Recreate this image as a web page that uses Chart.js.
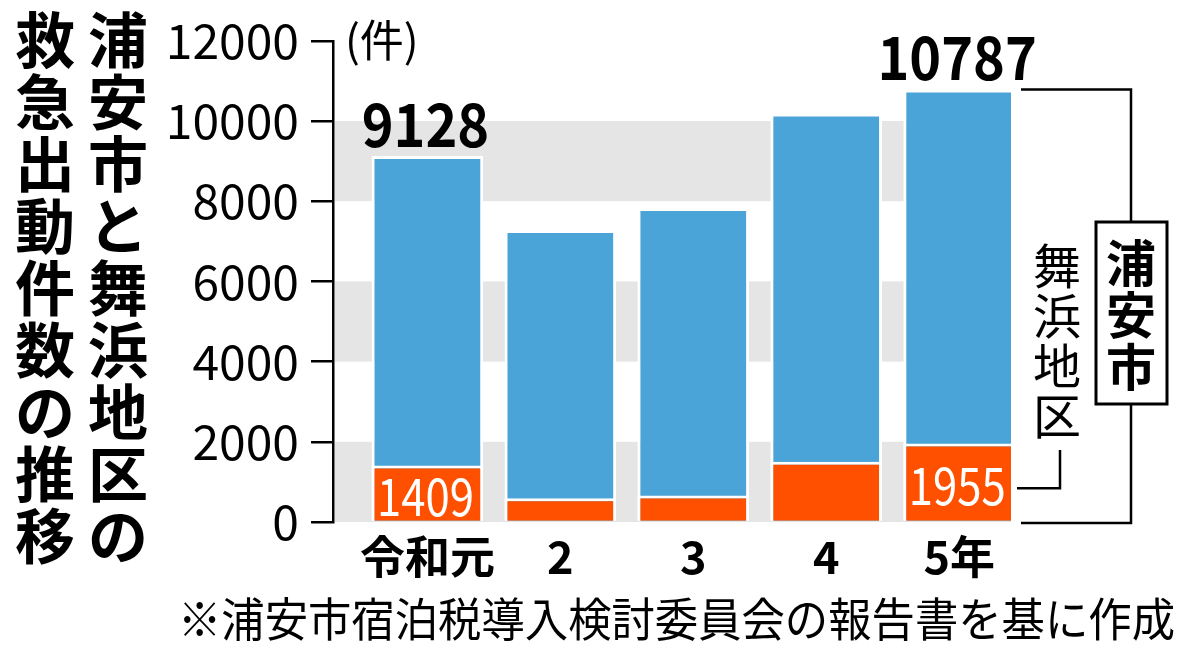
<!DOCTYPE html>
<html>
<head>
<meta charset="utf-8">
<script src="https://cdn.jsdelivr.net/npm/chart.js@4"></script>
<style>
  body { margin: 0; background: #fff; }
</style>
</head>
<body>
<canvas id="chart" width="1200" height="646"></canvas>
<script>
// data
const years = ['令和元', '2', '3', '4', '5年'];
const urayasuTotal = [9128, 7280, 7830, 10190, 10787];
const maihama = [1409, 590, 660, 1500, 1955];
const labelled = [0, 4];
const bands = [[0, 2000], [4000, 6000], [8000, 10000]];

const titleRight = '浦安市と舞浜地区の';
const titleLeft = '救急出動件数の推移';
const unitText = '(件)';
const cityText = '浦安市';
const areaText = '舞浜地区';
const noteText = '※浦安市宿泊税導入検討委員会の報告書を基に作成';

const JP = "'Noto Sans CJK JP', sans-serif";

function vertical(ctx, text, x, y0, pitch) {
  [...text].forEach((ch, i) => ctx.fillText(ch, x, y0 + i * pitch));
}

// text squeezed horizontally, like the condensed type of the original
function squeezed(ctx, text, x, y, sx) {
  ctx.save();
  ctx.translate(x, y);
  ctx.scale(sx, 1);
  ctx.fillText(text, 0, 0);
  ctx.restore();
}

const decor = {
  id: 'decor',
  beforeDatasetsDraw(chart) {
    const { ctx, chartArea: a, scales: { y } } = chart;
    ctx.save();
    ctx.fillStyle = '#e5e5e5';
    bands.forEach(([lo, hi]) => {
      const t = y.getPixelForValue(hi);
      const b = y.getPixelForValue(lo);
      ctx.fillRect(a.left + 2, t, a.right - a.left - 2, b - t);
    });
    ctx.restore();
  },
  afterDraw(chart) {
    const { ctx, scales: { y } } = chart;
    const blue = chart.getDatasetMeta(1).data;
    const orange = chart.getDatasetMeta(0).data;
    ctx.save();
    ctx.fillStyle = '#000';
    ctx.textAlign = 'center';
    ctx.textBaseline = 'middle';

    // vertical title
    ctx.font = 'bold 60px ' + JP;
    vertical(ctx, titleRight, 118, 40, 62);
    vertical(ctx, titleLeft, 45, 40, 62);

    // unit
    ctx.font = '44px ' + JP;
    ctx.textAlign = 'left';
    ctx.fillText(unitText, 345, 40);

    // totals above bars
    ctx.textAlign = 'center';
    ctx.textBaseline = 'alphabetic';
    ctx.font = 'bold 60px ' + JP;
    labelled.forEach(i => {
      const b = blue[i];
      squeezed(ctx, String(urayasuTotal[i]), b.x - 2, b.y - 9, 0.9);
    });

    // maihama values inside orange bars
    ctx.fillStyle = '#fff';
    ctx.textBaseline = 'middle';
    ctx.font = '52px ' + JP;
    labelled.forEach(i => {
      const b = orange[i];
      squeezed(ctx, String(maihama[i]), b.x - 2, (b.y + b.base) / 2 + 3, 0.84);
    });

    // brackets on the right
    const last = blue.length - 1;
    const right = blue[last].x + blue[last].width / 2 + 6;
    const top = y.getPixelForValue(urayasuTotal[last]);
    const zero = y.getPixelForValue(0) + 1;
    ctx.strokeStyle = '#000';
    ctx.lineWidth = 2.5;
    ctx.beginPath();
    ctx.moveTo(right, top); ctx.lineTo(1131, top); ctx.lineTo(1131, 222);
    ctx.moveTo(1131, 404); ctx.lineTo(1131, zero); ctx.lineTo(right, zero);
    ctx.stroke();
    ctx.lineWidth = 3;
    ctx.strokeRect(1096, 222, 71, 182);

    const o = orange[last];
    const oy = (o.y + o.base) / 2 + 6;
    ctx.lineWidth = 2.5;
    ctx.beginPath();
    ctx.moveTo(right - 4, oy); ctx.lineTo(1060, oy); ctx.lineTo(1060, 450);
    ctx.stroke();

    ctx.fillStyle = '#000';
    ctx.textAlign = 'center';
    ctx.font = 'bold 50px ' + JP;
    vertical(ctx, cityText, 1131, 263, 52);
    ctx.font = '48px ' + JP;
    vertical(ctx, areaText, 1057, 266, 50);

    // source note, fitted to its width in the original
    ctx.textAlign = 'left';
    ctx.font = '46px ' + JP;
    const w = ctx.measureText(noteText).width;
    squeezed(ctx, noteText, 178, 619, 997 / w);
    ctx.restore();
  }
};

new Chart(document.getElementById('chart'), {
  type: 'bar',
  data: {
    datasets: [
      {
        label: areaText,
        data: maihama.map((v, i) => ({ x: i, y: v })),
        backgroundColor: '#ff5000',
        order: 0
      },
      {
        label: cityText,
        data: urayasuTotal.map((v, i) => ({ x: i, y: v })),
        backgroundColor: '#4ba4d7',
        order: 1
      }
    ]
  },
  options: {
    responsive: false,
    animation: false,
    layout: { padding: { left: 0, top: 37, right: 189, bottom: 54 } },
    datasets: {
      bar: {
        grouped: false,
        borderColor: '#fff',
        borderWidth: 3,
        categoryPercentage: 1,
        barPercentage: 0.84
      }
    },
    plugins: {
      legend: { display: false },
      tooltip: { enabled: false }
    },
    scales: {
      x: {
        type: 'linear',
        offset: false,
        min: -0.71,
        max: 4.39,
        grid: { display: false, drawTicks: false, offset: false },
        border: { display: false },
        afterFit: s => { s.height = 70; },
        ticks: {
          stepSize: 1,
          includeBounds: false,
          autoSkip: false,
          maxRotation: 0,
          padding: 8,
          color: '#000',
          font: { family: JP, size: 45, weight: 'bold' },
          callback: v => {
            const r = Math.round(v);
            return Math.abs(v - r) < 1e-6 && years[r] !== undefined ? years[r] : '';
          }
        }
      },
      y: {
        min: 0,
        max: 12000,
        afterFit: s => { s.width = 333; },
        border: { display: true, color: '#000', width: 2.5 },
        grid: {
          drawOnChartArea: false,
          drawTicks: true,
          tickLength: 22,
          color: '#000',
          lineWidth: 2.5
        },
        ticks: {
          stepSize: 2000,
          padding: 12,
          color: '#000',
          font: { family: JP, size: 48 },
          callback: v => String(v)
        }
      }
    }
  },
  plugins: [decor]
});
</script>
</body>
</html>
